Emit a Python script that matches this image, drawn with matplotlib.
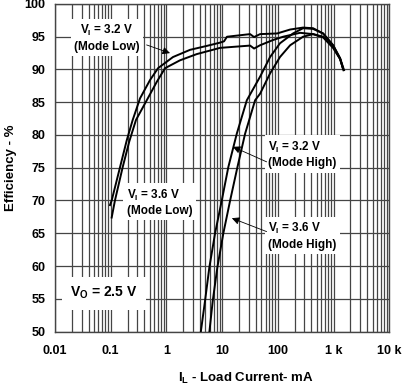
import matplotlib
matplotlib.use("Agg")
import matplotlib.pyplot as plt
from matplotlib.ticker import FixedLocator, FixedFormatter, LogLocator, NullFormatter

plt.rcParams["font.family"] = ["Liberation Sans", "DejaVu Sans"]
plt.rcParams["font.weight"] = "bold"
plt.rcParams["mathtext.fontset"] = "custom"
plt.rcParams["mathtext.rm"] = "Liberation Sans:bold"
plt.rcParams["mathtext.bf"] = "Liberation Sans:bold"
plt.rcParams["mathtext.it"] = "Liberation Sans:bold"

# Load current (mA) and efficiency (%)
i_32_low = [0.097, 0.104, 0.147, 0.194, 0.248, 0.336, 0.508, 0.707, 1.31, 2.65, 5.29, 9.16,
            10.8, 12.2, 31.7, 37.4, 47.9, 96.8, 166, 283, 428, 648, 979, 1309, 1500]
e_32_low = [69.3, 70.0, 75.1, 79.2, 82.3, 85.6, 88.4, 90.2, 91.9, 93.0, 93.6, 94.1,
            94.3, 95.0, 95.4, 94.95, 95.4, 95.5, 96.1, 96.4, 96.3, 95.5, 93.7, 91.7, 89.9]

i_36_low = [0.104, 0.119, 0.164, 0.215, 0.284, 0.443, 0.669, 0.944, 1.75, 3.50, 9.16,
            31.7, 37.4, 47.9, 82, 124, 250, 428, 648, 979, 1309, 1480]
e_36_low = [67.4, 70.0, 75.1, 79.0, 82.3, 85.3, 88.1, 90.2, 91.4, 92.35, 93.3,
            93.65, 93.2, 93.7, 94.5, 95.0, 95.6, 95.4, 94.9, 93.3, 91.6, 90.1]

i_32_high = [4.13, 4.93, 5.89, 7.46, 9.84, 12.9, 18.3, 27.7, 47.9, 72.4, 109,
             187, 283, 428, 648, 979, 1309, 1540]
e_32_high = [49.9, 54.7, 59.8, 65.0, 70.0, 75.1, 80.2, 85.3, 88.9, 91.9, 94.0,
             95.5, 96.3, 96.2, 95.5, 93.7, 91.7, 89.9]

i_36_high = [5.89, 6.78, 8.20, 10.5, 13.9, 18.8, 25.8, 39.0, 47.9, 72.4, 109,
             166, 283, 428, 648, 979, 1309, 1480]
e_36_high = [49.9, 54.7, 59.8, 65.0, 70.0, 75.1, 80.2, 85.3, 86.3, 89.4, 91.9,
             93.7, 95.0, 95.4, 95.0, 93.4, 91.6, 90.1]

x_ticks = [0.01, 0.1, 1, 10, 100, 1000, 10000]
x_tick_labels = ["0.01", "0.1", "1", "10", "100", "1 k", "10 k"]
y_ticks = [50, 55, 60, 65, 70, 75, 80, 85, 90, 95, 100]

GRID = "#454545"

fig = plt.figure(figsize=(4.06, 3.87), dpi=100)
ax = fig.add_axes([0.1355, 0.1434, 0.8234, 0.8463])

for xs, ys in [(i_32_low, e_32_low), (i_36_low, e_36_low),
               (i_32_high, e_32_high), (i_36_high, e_36_high)]:
    ax.plot(xs, ys, color="black", lw=1.4, zorder=3, solid_joinstyle="round")

ax.set_xscale("log")
ax.set_xlim(0.01, 10000)
ax.set_ylim(50, 100)
ax.xaxis.set_major_locator(FixedLocator(x_ticks))
ax.xaxis.set_major_formatter(FixedFormatter(x_tick_labels))
ax.xaxis.set_minor_locator(LogLocator(base=10, subs=range(2, 10), numticks=20))
ax.xaxis.set_minor_formatter(NullFormatter())
ax.set_yticks(y_ticks)
ax.tick_params(which="both", length=0)
ax.tick_params(axis="x", pad=10, labelsize=9)
ax.tick_params(axis="y", pad=7, labelsize=9)
for lab in ax.get_xticklabels() + ax.get_yticklabels():
    lab.set_fontweight("bold")

ax.grid(which="both", axis="x", color=GRID, lw=0.9)
ax.grid(which="major", axis="y", color=GRID, lw=0.9)
for sp in ax.spines.values():
    sp.set_color(GRID)
    sp.set_linewidth(1.0)

ax.set_ylabel("Efficiency - %", fontsize=9.5, fontweight="bold", labelpad=5)
fig.text(246 / 406, 1 - 378 / 387, r"I$_\mathregular{L}$ - Load Current- mA",
         ha="center", va="center", fontsize=9.5, fontweight="bold")

box = dict(facecolor="white", edgecolor="none", pad=2.5)
tk = dict(transform=ax.transAxes, fontsize=8.5, fontweight="bold", bbox=box,
          va="center", zorder=4, linespacing=1.25)
ax.text(0.156, 0.896, "V$_\\mathregular{I}$ = 3.2 V\n(Mode Low)", ha="center",
        multialignment="center", **tk)
ax.text(0.215, 0.395, "V$_\\mathregular{I}$ = 3.6 V\n(Mode Low)", ha="left",
        multialignment="left", **tk)
ax.text(0.637, 0.540, "V$_\\mathregular{I}$ = 3.2 V\n(Mode High)", ha="left",
        multialignment="left", **tk)
ax.text(0.637, 0.292, "V$_\\mathregular{I}$ = 3.6 V\n(Mode High)", ha="left",
        multialignment="left", **tk)
ax.text(0.147, 0.117, "V$_\\mathregular{O}$ = 2.5 V", ha="center", va="center",
        transform=ax.transAxes, fontsize=10, fontweight="bold", zorder=4,
        bbox=dict(facecolor="white", edgecolor="none", pad=6))

arrow = dict(arrowstyle="-|>", color="black", lw=0.6, mutation_scale=11,
             shrinkA=0, shrinkB=0)
for start, tip in [((0.274, 0.875), (0.344, 0.850)),
                   ((0.633, 0.518), (0.532, 0.564)),
                   ((0.633, 0.305), (0.529, 0.346))]:
    ax.annotate("", xy=tip, xytext=start, xycoords="axes fraction",
                textcoords="axes fraction", arrowprops=arrow, zorder=5)

fig.savefig("out.png", dpi=100)
